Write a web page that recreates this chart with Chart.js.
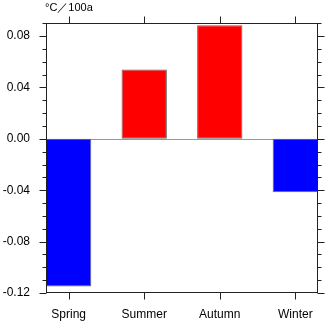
<!DOCTYPE html>
<html>
<head>
<meta charset="utf-8">
<script src="https://cdn.jsdelivr.net/npm/chart.js@4.4.1/dist/chart.umd.min.js"></script>
<style>
  body { margin: 0; background: #fff; }
  #wrap { width: 330px; height: 321px; }
</style>
</head>
<body>
<div id="wrap"><canvas id="trend-chart" width="330" height="321"></canvas></div>
<script>
// seasonal trend data
var categories = ['Spring', 'Summer', 'Autumn', 'Winter'];
var trendValues = [-0.115, 0.054, 0.0885, -0.0415];
var yMajorTicks = [-0.12, -0.08, -0.04, 0.00, 0.04, 0.08];
var yMinorTicks = [-0.11, -0.10, -0.09, -0.07, -0.06, -0.05, -0.03, -0.02, -0.01,
                   0.01, 0.02, 0.03, 0.05, 0.06, 0.07, 0.09];
var yMin = -0.12, yMax = 0.09;
var unitLabel = '°C／100a';

var fontFamily = '"Liberation Sans", Arial, Helvetica, sans-serif';

var barPoints = categories.map(function (c, i) {
    return { x: i + 1, y: trendValues[i] };
});

// frame, tick marks, zero line and unit text
var framePlugin = {
    id: 'frame',
    beforeDatasetsDraw: function (chart) {
        var ctx = chart.ctx, a = chart.chartArea;
        var y0 = chart.scales.y.getPixelForValue(0);
        ctx.save();
        ctx.strokeStyle = '#999';
        ctx.lineWidth = 1;
        ctx.beginPath();
        ctx.moveTo(a.left, Math.round(y0) + 0.5);
        ctx.lineTo(a.right, Math.round(y0) + 0.5);
        ctx.stroke();
        ctx.restore();
    },
    afterDatasetsDraw: function (chart) {
        var ctx = chart.ctx, a = chart.chartArea;
        var ys = chart.scales.y, xs = chart.scales.x;
        var l = Math.round(a.left) + 0.5, r = Math.round(a.right) - 0.5;
        var t = Math.round(a.top) + 0.5, b = Math.round(a.bottom) - 0.5;
        ctx.save();
        ctx.strokeStyle = '#222';
        ctx.lineWidth = 1;
        ctx.strokeRect(l, t, r - l, b - t);
        ctx.beginPath();
        function yTick(v, len) {
            var p = Math.round(ys.getPixelForValue(v)) + 0.5;
            ctx.moveTo(l, p); ctx.lineTo(l - len, p);
            ctx.moveTo(r, p); ctx.lineTo(r + len, p);
        }
        yMajorTicks.forEach(function (v) { yTick(v, 7); });
        yMinorTicks.forEach(function (v) { yTick(v, 4); });
        categories.forEach(function (c, i) {
            var p = Math.round(xs.getPixelForValue(i + 1)) + 0.5;
            ctx.moveTo(p, b); ctx.lineTo(p, b + 7);
            ctx.moveTo(p, t); ctx.lineTo(p, t - 7);
        });
        ctx.stroke();
        ctx.fillStyle = '#000';
        ctx.font = '11px ' + fontFamily;
        ctx.textAlign = 'left';
        ctx.textBaseline = 'middle';
        ctx.fillText(unitLabel, a.left - 1, 8);
        ctx.restore();
    }
};

var ctx = document.getElementById('trend-chart').getContext('2d');
var trendChart = new Chart(ctx, {
    type: 'bar',
    data: {
        datasets: [{
            data: barPoints,
            backgroundColor: trendValues.map(function (v) { return v < 0 ? '#0000ff' : '#ff0000'; }),
            borderColor: '#666',
            borderWidth: 1,
            borderSkipped: false,
            barPercentage: 0.6,
            categoryPercentage: 1.0
        }]
    },
    options: {
        responsive: false,
        animation: false,
        layout: { padding: { top: 22, right: 12, left: 0, bottom: 0 } },
        plugins: {
            legend: { display: false },
            tooltip: { enabled: false }
        },
        scales: {
            x: {
                type: 'linear',
                min: 0.7,
                max: 4.3,
                offset: false,
                grid: { display: false, drawTicks: false, offset: false },
                border: { display: false },
                afterBuildTicks: function (scale) {
                    scale.ticks = categories.map(function (c, i) { return { value: i + 1 }; });
                },
                afterFit: function (scale) { scale.height = 28; },
                ticks: {
                    padding: 14,
                    color: '#000',
                    font: { family: fontFamily, size: 12 },
                    callback: function (v) { return categories[v - 1]; }
                }
            },
            y: {
                min: yMin,
                max: yMax,
                grid: { display: false, drawTicks: false },
                border: { display: false },
                afterBuildTicks: function (scale) {
                    scale.ticks = yMajorTicks.map(function (v) { return { value: v }; });
                },
                afterFit: function (scale) { scale.width = 46; },
                ticks: {
                    padding: 16,
                    color: '#000',
                    font: { family: fontFamily, size: 12 },
                    callback: function (v) { return v.toFixed(2); }
                }
            }
        }
    },
    plugins: [framePlugin]
});
</script>
</body>
</html>
